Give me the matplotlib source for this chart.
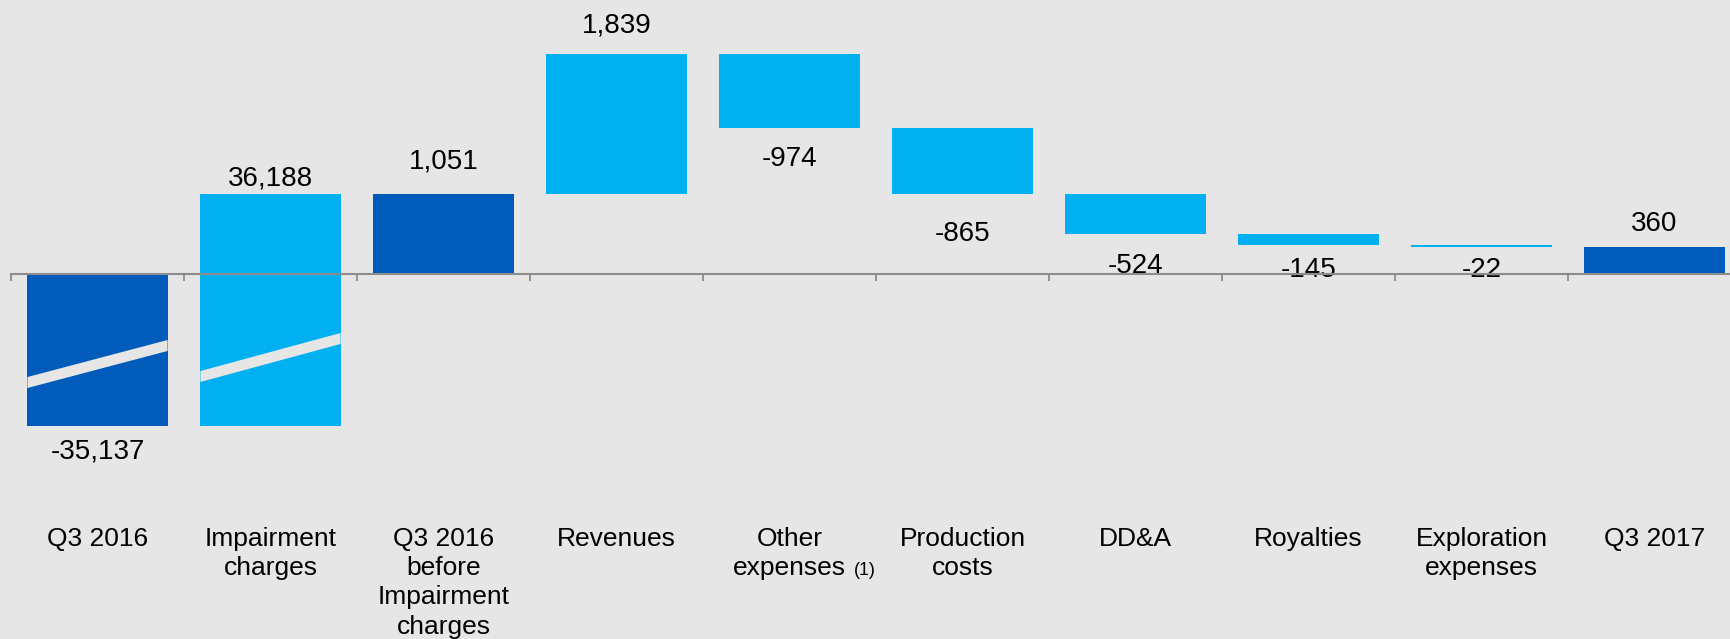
import numpy as np
import matplotlib
matplotlib.use("Agg")
import matplotlib.pyplot as plt
from matplotlib.patches import Polygon

# ---- data -------------------------------------------------------------
categories = ["Q3 2016", "Impairment\ncharges", "Q3 2016\nbefore\nImpairment\ncharges",
              "Revenues", "Other\nexpenses", "Production\ncosts", "DD&A",
              "Royalties", "Exploration\nexpenses", "Q3 2017"]
values = [-35137, 36188, 1051, 1839, -974, -865, -524, -145, -22, 360]
is_total = [True, False, True, False, False, False, False, False, False, True]
footnote_idx = 4
footnote_text = "(1)"

# ---- style ------------------------------------------------------------
BG = "#E6E6E6"
DARK = "#005BBB"
LIGHT = "#00B0F0"
AXIS_GREY = "#8C8C8C"
plt.rcParams["font.family"] = ["Liberation Sans", "DejaVu Sans"]

# gap between each value label and its bar (points)
label_pad = [23.3, 6.0, 18.5, 15.6, 27.4, 33.6, 28.5, 23.0, 22.1, 11.5]

# broken-axis scale: values below BREAK are squeezed
BREAK = -700.0
SQUEEZE = 1300.0 / 34437.0


def fwd(y):
    y = np.asarray(y, dtype=float)
    return np.where(y >= BREAK, y, BREAK + (y - BREAK) * SQUEEZE)


def inv(d):
    d = np.asarray(d, dtype=float)
    return np.where(d >= BREAK, d, BREAK + (d - BREAK) / SQUEEZE)


fig = plt.figure(figsize=(17.3, 6.39), dpi=100, facecolor=BG)
ax = fig.add_axes([11 / 1730, 0.0, 1.0, 1.0])
ax.set_facecolor(BG)
ax.set_yscale("function", functions=(fwd, inv))

# ---- waterfall geometry ----------------------------------------------
x = np.arange(len(categories))
bottoms, heights = [], []
running = 0.0
for v, tot in zip(values, is_total):
    if tot:
        bottoms.append(0.0)
        heights.append(v)
        running = v
    else:
        bottoms.append(running)
        heights.append(v)
        running += v
bottoms = np.array(bottoms)
heights = np.array(heights)
colors = [DARK if t else LIGHT for t in is_total]

bar_w = 0.81
ax.bar(x, heights, bottom=bottoms, width=bar_w, color=colors, linewidth=0, zorder=2)

# break marks across the two long bars (in scaled units)
break_marks = {0: (-1424.0, -938.0), 1: (-1345.0, -846.0)}
half_thick = 72.0
for i, (yl, yr) in break_marks.items():
    xl, xr = x[i] - bar_w / 2, x[i] + bar_w / 2
    pts = [(xl, inv(yl + half_thick)), (xr, inv(yr + half_thick)),
           (xr, inv(yr - half_thick)), (xl, inv(yl - half_thick))]
    ax.add_patch(Polygon(pts, closed=True, facecolor=BG, edgecolor="none", zorder=3))

# value labels
for i, v in enumerate(values):
    lo = min(bottoms[i], bottoms[i] + heights[i])
    hi = max(bottoms[i], bottoms[i] + heights[i])
    txt = f"{v:,}"
    if v >= 0:
        ax.annotate(txt, xy=(x[i], hi), xytext=(0, label_pad[i]),
                    textcoords="offset points", ha="center", va="baseline",
                    fontsize=20, color="black", zorder=4)
    else:
        ax.annotate(txt, xy=(x[i], lo), xytext=(0, -label_pad[i]),
                    textcoords="offset points", ha="center", va="baseline",
                    fontsize=20, color="black", zorder=4)

# ---- axes -------------------------------------------------------------
ax.set_xlim(-0.5, len(categories) - 0.5)
ax.set_ylim(float(inv(-4790.0)), 3596.0)
for side in ("top", "left", "right"):
    ax.spines[side].set_visible(False)
ax.spines["bottom"].set_position(("data", 0))
ax.spines["bottom"].set_color(AXIS_GREY)
ax.spines["bottom"].set_linewidth(1.5)
ax.spines["bottom"].set_zorder(5)
ax.set_yticks([])
ax.yaxis.set_minor_locator(matplotlib.ticker.NullLocator())

ax.set_xticks(np.arange(-0.5, len(categories), 1.0))
ax.set_xticklabels([])
ax.set_xticks(x, categories, minor=True)
ax.tick_params(axis="x", which="major", direction="out", length=5,
               width=1.3, color=AXIS_GREY)
ax.tick_params(axis="x", which="minor", length=0, pad=182, labelsize=19,
               labelcolor="black")
minor_labels = ax.get_xticklabels(minor=True)
for lbl in minor_labels:
    lbl.set_linespacing(1.28)

ax.annotate(footnote_text, xy=(1, 0), xycoords=minor_labels[footnote_idx],
            xytext=(6, 4), textcoords="offset points", ha="left", va="baseline",
            fontsize=12.8, color="black")

fig.savefig("out.png", dpi=100, facecolor=BG)
